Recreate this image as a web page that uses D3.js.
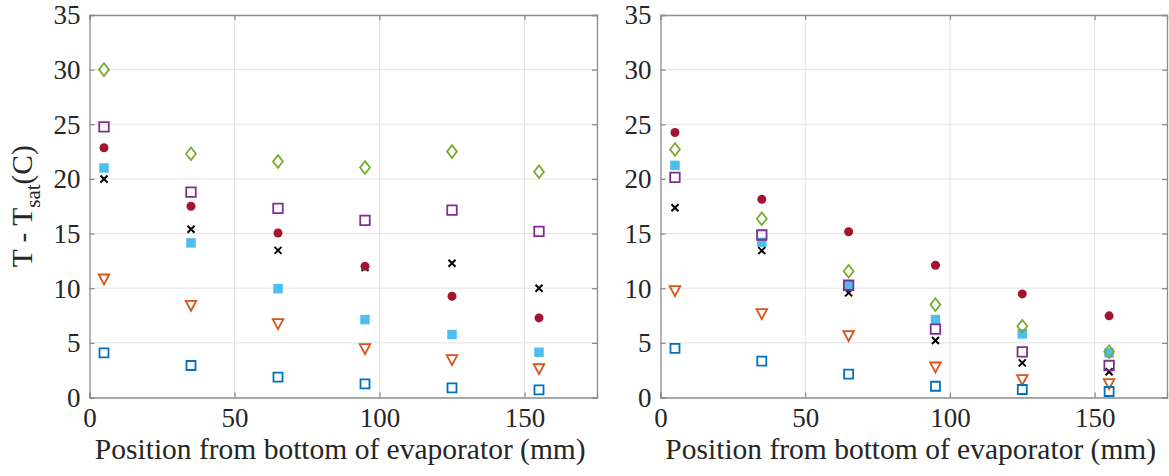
<!DOCTYPE html>
<html><head><meta charset="utf-8">
<script src="https://cdn.jsdelivr.net/npm/d3@7"></script>
<style>
html,body{margin:0;padding:0;background:#fff;}
svg{display:block;font-family:"Liberation Serif","Times New Roman",serif;}
svg text{font-family:"Liberation Serif","Times New Roman",serif !important;}
</style></head>
<body><svg id="chart" width="1169" height="476"></svg>
<script>
// ---- data ----
const positions = [5, 35, 65, 95, 125, 155];
const xTicks = [0, 50, 100, 150];
const yTicks = [0, 5, 10, 15, 20, 25, 30, 35];
const xLabel = "Position from bottom of evaporator (mm)";

// left panel series
const leftCyan   = [21.0, 14.15, 9.96, 7.13, 5.76, 4.14];
const leftBlack  = [20.0, 15.4, 13.46, 11.9, 12.28, 10.0];
const leftRed    = [22.85, 17.5, 15.05, 12.0, 9.26, 7.28];
const leftPurple = [24.77, 18.8, 17.3, 16.2, 17.15, 15.2];
const leftGreen  = [30.0, 22.3, 21.6, 21.05, 22.5, 20.66];
const leftOrange = [10.85, 8.44, 6.76, 4.48, 3.47, 2.65];
const leftBlue   = [4.08, 2.93, 1.86, 1.25, 0.88, 0.7];

// right panel series
const rightCyan   = [21.24, 14.2, 10.24, 7.13, 5.82, 4.08];
const rightBlack  = [17.37, 13.44, 9.57, 5.21, 3.17, 2.35];
const rightRed    = [24.25, 18.13, 15.17, 12.1, 9.48, 7.47];
const rightPurple = [20.14, 14.87, 10.27, 6.25, 4.18, 2.93];
const rightGreen  = [22.7, 16.36, 11.55, 8.5, 6.52, 4.18];
const rightOrange = [9.78, 7.68, 5.67, 2.8, 1.65, 1.28];
const rightBlue   = [4.5, 3.32, 2.13, 1.03, 0.73, 0.55];

// ---- styles ----
const styles = {
  cyan:   {shape:"square", fill:"#4DBEEE", stroke:"none", size:9.5},
  black:  {shape:"x", fill:"none", stroke:"#000", size:7},
  red:    {shape:"circle", fill:"#A2142F", stroke:"none", size:9},
  purple: {shape:"square", fill:"none", stroke:"#7E2F8E", size:9.5},
  green:  {shape:"diamond", fill:"none", stroke:"#77AC30", size:11.5},
  orange: {shape:"triangle", fill:"none", stroke:"#D95319", size:11},
  blue:   {shape:"square", fill:"none", stroke:"#0072BD", size:9}
};
const order = ["cyan","black","red","purple","green","orange","blue"];

const panels = [
  {x0:89.5, x1:597, series:{cyan:leftCyan, black:leftBlack, red:leftRed, purple:leftPurple, green:leftGreen, orange:leftOrange, blue:leftBlue}, ylabel:true},
  {x0:660.5, x1:1167, series:{cyan:rightCyan, black:rightBlack, red:rightRed, purple:rightPurple, green:rightGreen, orange:rightOrange, blue:rightBlue}, ylabel:false}
];
const plotTop = 15, plotBottom = 397.5;
const svg = d3.select("#chart");
const axisColor = "#8c8c8c";
const serif = '"Liberation Serif","Times New Roman",serif';

function markerPath(shape, s) {
  const h = s/2;
  switch(shape) {
    case "square": return `M${-h},${-h}H${h}V${h}H${-h}Z`;
    case "diamond": { const w = s*0.43, v = s*0.55; return `M0,${-v}L${w},0L0,${v}L${-w},0Z`; }
    case "triangle": { const w = s*0.48; return `M${-w},${-s*0.4}L${w},${-s*0.4}L0,${s*0.5}Z`; }
    case "x": return `M${-h},${-h}L${h},${h}M${-h},${h}L${h},${-h}`;
  }
}

panels.forEach(p => {
  const x = d3.scaleLinear().domain([0,175]).range([p.x0, p.x1]);
  const y = d3.scaleLinear().domain([0,35]).range([plotBottom, plotTop]);
  const g = svg.append("g");

  // grid
  g.append("g").selectAll("line").data(xTicks.filter(t=>t>0)).join("line")
    .attr("x1", d=>x(d)).attr("x2", d=>x(d)).attr("y1", plotTop).attr("y2", plotBottom)
    .attr("stroke", "#e3e3e3").attr("stroke-width", 1);
  g.append("g").selectAll("line").data(yTicks.filter(t=>t>0 && t<35)).join("line")
    .attr("y1", d=>y(d)).attr("y2", d=>y(d)).attr("x1", p.x0).attr("x2", p.x1)
    .attr("stroke", "#e3e3e3").attr("stroke-width", 1);

  // axes via d3 axis (ticks inward)
  const xAxis = d3.axisBottom(x).tickValues(xTicks).tickSize(-5).tickPadding(10).tickFormat(d3.format("d"));
  const yAxis = d3.axisLeft(y).tickValues(yTicks).tickSize(-5).tickPadding(9).tickFormat(d3.format("d"));
  const gx = g.append("g").attr("transform", `translate(0,${plotBottom})`).call(xAxis);
  const gy = g.append("g").attr("transform", `translate(${p.x0},0)`).call(yAxis);
  const gxt = g.append("g").attr("transform", `translate(0,${plotTop})`).call(d3.axisTop(x).tickValues(xTicks).tickSize(-5).tickFormat(""));
  const gyr = g.append("g").attr("transform", `translate(${p.x1},0)`).call(d3.axisRight(y).tickValues(yTicks).tickSize(-5).tickFormat(""));
  [gx,gy,gxt,gyr].forEach(a => {
    a.attr("font-family", null).attr("font-size", null);
    a.select(".domain").attr("stroke", axisColor).attr("stroke-width", 1.3);
    a.selectAll(".tick line").attr("stroke", axisColor).attr("stroke-width", 1.3);
    a.selectAll(".tick text").attr("fill", "#262626").attr("font-size", 27)
      .style("font-family", serif);
  });
  gx.selectAll(".tick text").attr("dy", "0.71em");
  gy.selectAll(".tick text").attr("dy", "0.33em");

  // markers
  order.forEach(k => {
    const st = styles[k];
    const vals = p.series[k];
    const mg = g.append("g");
    if (st.shape === "circle") {
      mg.selectAll("circle").data(vals).join("circle")
        .attr("cx", (d,i)=>x(positions[i])).attr("cy", d=>y(d)).attr("r", st.size/2)
        .attr("fill", st.fill);
    } else {
      mg.selectAll("path").data(vals).join("path")
        .attr("transform", (d,i)=>`translate(${x(positions[i])},${y(d)})`)
        .attr("d", markerPath(st.shape, st.size))
        .attr("fill", st.fill).attr("stroke", st.stroke)
        .attr("stroke-width", st.shape==="x" ? 2 : 1.8);
    }
  });

  // x label
  g.append("text").attr("x", (p.x0+p.x1)/2 - 3).attr("y", 459)
    .attr("text-anchor", "middle").attr("font-size", 29.5).attr("fill", "#262626")
    .style("font-family", serif)
    .text(xLabel);

  if (p.ylabel) {
    const t = g.append("text").attr("transform", `translate(32,${(plotTop+plotBottom)/2}) rotate(-90)`)
      .attr("text-anchor", "middle").attr("font-size", 29.5).attr("fill", "#262626")
      .style("font-family", serif);
    t.append("tspan").text("T - T");
    t.append("tspan").attr("font-size", 21).attr("dy", 8).text("sat");
    t.append("tspan").attr("dy", -8).text("(C)");
  }
});
</script>
</body></html>
